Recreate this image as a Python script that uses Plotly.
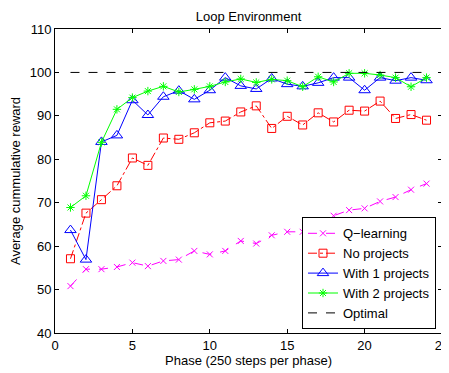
import plotly.graph_objects as go

phases = list(range(1, 25))
q_learning = [50.8, 54.7, 54.7, 55.2, 56.2, 55.4, 56.6, 56.9, 58.9, 58.1, 58.9, 61.2,
              60.6, 62.5, 63.3, 63.3, 64.1, 67.0, 68.3, 68.7, 70.3, 71.3, 73.0, 74.4]
no_projects = [57.1, 67.6, 70.7, 73.9, 80.3, 78.6, 84.9, 84.6, 86.1, 88.4, 88.8, 90.9,
               92.3, 87.1, 89.9, 87.9, 90.7, 88.6, 91.3, 91.1, 93.4, 89.4, 90.3, 89.0]
with_1 = [63.7, 56.9, 84.0, 85.5, 93.6, 90.2, 94.4, 95.8, 93.8, 95.9, 98.8, 96.9,
          96.2, 98.6, 97.3, 96.8, 97.6, 98.8, 98.8, 95.9, 98.8, 98.1, 98.8, 98.2]
with_2 = [68.9, 71.6, 83.9, 91.5, 94.2, 95.7, 96.8, 95.5, 96.1, 96.8, 97.8, 98.5,
          97.7, 98.4, 98.1, 96.7, 99.0, 97.8, 99.8, 99.8, 99.4, 98.8, 96.7, 98.8]
optimal = [100] * 24
x_ticks = [0, 5, 10, 15, 20, 25]
y_ticks = [40, 50, 60, 70, 80, 90, 100, 110]

fig = go.Figure()
fig.add_trace(go.Scatter(x=phases, y=q_learning, name="Q\u2212learning", mode="lines+markers",
                         line=dict(color="#ff00ff", width=1, dash="dash"),
                         marker=dict(symbol="x-thin-open", size=6, color="#ff00ff",
                                     line=dict(color="#ff00ff", width=1))))
fig.add_trace(go.Scatter(x=phases, y=no_projects, name="No projects", mode="lines+markers",
                         line=dict(color="#ff0000", width=1, dash="dashdot"),
                         marker=dict(symbol="square-open", size=8, color="#ff0000",
                                     line=dict(color="#ff0000", width=1))))
fig.add_trace(go.Scatter(x=phases, y=with_1, name="With 1 projects", mode="lines+markers",
                         line=dict(color="#0000ff", width=1),
                         marker=dict(symbol="triangle-up-open", size=10, color="#0000ff",
                                     line=dict(color="#0000ff", width=1))))
fig.add_trace(go.Scatter(x=phases, y=with_2, name="With 2 projects", mode="lines+markers",
                         line=dict(color="#00ff00", width=1),
                         marker=dict(symbol="asterisk-open", size=7, color="#00ff00",
                                     line=dict(color="#00ff00", width=1))))
fig.add_trace(go.Scatter(x=phases, y=optimal, name="Optimal", mode="lines",
                         line=dict(color="#000000", width=1, dash="dash")))

axis_common = dict(showgrid=False, zeroline=False, showline=True, linecolor="black",
                   linewidth=1, mirror="ticks", ticks="inside", ticklen=4,
                   tickcolor="black", tickfont=dict(size=13, color="black"),
                   automargin=False, ticklabeloverflow="allow")
# page body adds an 8px offset, so the figure is 8px smaller and margins compensate
fig.update_layout(
    width=441, height=365,
    margin=dict(l=47, r=7, t=21, b=40),
    paper_bgcolor="white", plot_bgcolor="white",
    font=dict(family="Liberation Sans, Arial, sans-serif", size=13, color="black"),
    title=dict(text="Loop Environment", xref="paper", x=0.5, xanchor="center",
               yref="container", y=0.977, yanchor="middle", font=dict(size=13)),
    xaxis=dict(range=[0, 25], tickvals=x_ticks,
               title=dict(text="Phase (250 steps per phase)", standoff=0, font=dict(size=13)),
               **axis_common),
    yaxis=dict(range=[40, 110], tickvals=y_ticks,
               title=dict(text="Average cummulative reward", standoff=6, font=dict(size=13)),
               **axis_common),
    legend=dict(x=0.9845, xanchor="right", y=0.012, yanchor="bottom",
                bordercolor="black", borderwidth=1, bgcolor="white",
                font=dict(size=13), tracegroupgap=0, itemwidth=30),
    showlegend=True,
)
fig.write_html("out.html")
